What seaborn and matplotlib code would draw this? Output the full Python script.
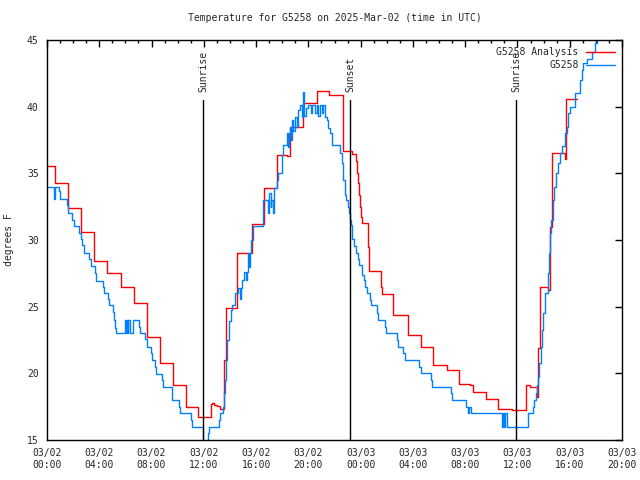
import pandas as pd
import seaborn as sns
import matplotlib.pyplot as plt
import matplotlib.dates as mdates

# hours after 2025-03-02 00:00 UTC, temperatures in degrees F
analysis_hours = [0, 0.59, 1.58, 2.58, 3.60, 4.57, 5.66, 6.63, 7.63, 8.65, 9.62, 10.61,
                  11.58, 12.53, 12.58, 12.63, 12.78, 13.01, 13.24, 13.57, 13.67, 14.56,
                  15.66, 16.63, 17.58, 18.36, 18.57, 19.57, 20.64, 21.60, 22.63, 23.32,
                  23.62, 23.65, 23.72, 23.77, 23.87, 23.95, 24.03, 24.08, 24.59, 24.66,
                  25.56, 25.66, 26.50, 27.60, 28.60, 29.56, 30.59, 31.55, 32.37, 32.62,
                  33.57, 34.53, 35.56, 36.63, 36.96, 37.47, 37.57, 37.72, 38.31, 38.50,
                  38.61, 39.64, 39.69, 39.71, 40.53]
analysis_temp = [35.55, 34.25, 32.4, 30.6, 28.4, 27.5, 26.45, 25.3, 22.7, 20.8, 19.1, 17.5,
                 16.7, 17.25, 17.7, 17.8, 17.6, 17.55, 17.3, 21.0, 24.9, 29.05,
                 31.2, 33.9, 36.4, 36.3, 38.45, 40.3, 41.15, 40.85, 36.7, 36.45,
                 36.3, 35.9, 35.0, 34.3, 33.4, 32.5, 31.7, 31.3, 29.5, 27.65,
                 26.5, 25.95, 24.4, 22.9, 21.95, 20.6, 20.25, 19.2, 19.1, 18.6,
                 18.05, 17.3, 17.25, 19.1, 19.0, 18.25, 21.9, 26.5, 26.25, 31.0,
                 36.5, 36.05, 38.3, 40.6, 40.6]

obs_hours = [0, 0.54, 0.61, 0.92, 1.02, 1.51, 1.58, 1.94, 2.04, 2.47, 2.58, 2.70, 2.83,
             3.24, 3.34, 3.67, 3.73, 4.29, 4.36, 4.67, 4.74, 5.07, 5.15, 5.20, 5.30,
             5.97, 6.07, 6.12, 6.17, 6.22, 6.35, 6.60, 7.06, 7.12, 7.50, 7.63, 7.94,
             8.01, 8.26, 8.34, 8.80, 8.85, 9.54, 9.59, 10.12, 10.18, 11.00, 11.07,
             11.91, 12.34, 12.42, 13.18, 13.26, 13.49, 13.57, 13.62, 13.70, 13.75,
             13.95, 14.06, 14.13, 14.39, 14.64, 14.77, 14.82, 14.90, 15.07, 15.23,
             15.28, 15.36, 15.46, 15.51, 15.61, 15.79, 16.51, 16.55, 16.93, 17.01,
             17.12, 17.16, 17.32, 17.39, 17.58, 17.70, 17.96, 18.08, 18.34, 18.44,
             18.52, 18.59, 18.67, 18.77, 18.85, 18.98, 19.11, 19.23, 19.36, 19.49,
             19.61, 19.69, 19.82, 19.99, 20.20, 20.30, 20.51, 20.64, 20.76, 20.89,
             21.02, 21.14, 21.27, 21.40, 21.53, 21.66, 21.79, 22.42, 22.55, 22.67,
             22.80, 22.88, 23.01, 23.11, 23.19, 23.26, 23.32, 23.36, 23.52, 23.64,
             23.77, 23.87, 24.08, 24.23, 24.33, 24.49, 24.72, 24.77, 25.27, 25.35,
             25.86, 25.92, 26.76, 26.84, 27.26, 27.39, 28.49, 28.60, 29.36, 29.44,
             30.89, 30.99, 32.06, 32.21, 32.29, 32.41, 34.79, 34.87, 34.97, 35.05,
             35.18, 36.78, 37.17, 37.27, 37.42, 37.52, 37.59, 37.67, 37.78, 37.85,
             37.98, 38.11, 38.36, 38.41, 38.49, 38.57, 38.70, 38.80, 38.95, 39.13,
             39.26, 39.38, 39.64, 39.77, 39.89, 40.02, 40.40, 40.79, 40.92, 41.04,
             41.34, 41.68, 41.93, 42.06, 42.47]
obs_temp = [34.0, 33.05, 34.0, 33.65, 33.1, 32.6, 32.0, 31.5, 31.05, 30.55, 30.1, 29.6, 29.0,
            28.6, 28.05, 27.55, 26.95, 26.45, 26.0, 25.6, 25.1, 24.6, 24.0, 23.4, 23.0,
            24.0, 23.0, 24.0, 23.0, 24.0, 23.0, 24.0, 23.5, 23.05, 22.55, 22.0, 21.55,
            21.0, 20.45, 19.95, 19.5, 19.0, 18.5, 18.0, 17.5, 17.0, 16.5, 16.0,
            14.8, 15.5, 15.95, 16.5, 17.0, 17.45, 18.5, 19.5, 21.0, 22.5,
            23.9, 24.75, 25.1, 26.0, 26.4, 25.6, 26.4, 27.0, 27.6, 27.0,
            27.6, 29.0, 28.0, 29.0, 30.0, 31.05, 32.0, 33.0, 32.0, 33.5,
            32.5, 33.0, 32.0, 33.9, 34.5, 35.0, 36.4, 37.1, 38.0, 37.0,
            38.0, 38.5, 37.5, 39.0, 38.2, 39.25, 38.5, 39.75, 40.1, 39.25,
            41.1, 39.3, 39.9, 40.1, 39.5, 40.1, 39.5, 40.1, 39.3, 40.1,
            39.5, 40.1, 39.25, 39.0, 38.4, 38.0, 37.1, 36.5, 35.75, 34.5,
            33.4, 33.0, 32.5, 32.0, 31.5, 31.1, 30.75, 30.05, 29.55, 29.0,
            28.6, 28.1, 27.4, 27.0, 26.5, 26.0, 25.5, 25.1, 24.5, 24.0,
            23.5, 23.0, 22.5, 22.0, 21.5, 21.0, 20.5, 20.0, 19.5, 19.0,
            18.5, 18.0, 17.5, 17.0, 17.5, 17.0, 16.0, 17.0, 16.0, 17.0,
            16.0, 17.0, 17.5, 18.0, 18.5, 19.1, 19.75, 20.75, 22.0, 23.25,
            24.5, 26.0, 27.5, 29.0, 30.5, 31.5, 33.0, 34.0, 35.0, 35.75,
            36.5, 37.05, 38.0, 38.5, 39.5, 40.0, 41.0, 42.0, 42.75, 43.25,
            43.6, 44.1, 44.75, 45.3, 46.0]

sun_events = ['Sunrise', 'Sunset', 'Sunrise']
sun_hours = [11.94, 23.19, 35.89]

start = pd.Timestamp('2025-03-02 00:00')
end = pd.Timestamp('2025-03-03 20:00')

analysis = pd.DataFrame({'time': start + pd.to_timedelta(analysis_hours, unit='h'),
                         'temp': analysis_temp})
obs = pd.DataFrame({'time': start + pd.to_timedelta(obs_hours, unit='h'),
                    'temp': obs_temp})

sns.set_style('white')
plt.rcParams['font.family'] = ['DejaVu Sans Mono']
plt.rcParams['font.size'] = 7

fig = plt.figure(figsize=(6.4, 4.8), dpi=100)
ax = fig.add_axes([47 / 640, 40 / 480, 575 / 640, 400 / 480])

sns.lineplot(data=analysis, x='time', y='temp', ax=ax, color='#ff0000', lw=1,
             drawstyle='steps-post', estimator=None, label='G5258 Analysis')
sns.lineplot(data=obs, x='time', y='temp', ax=ax, color='#0080ff', lw=1,
             drawstyle='steps-post', estimator=None, label='G5258')

# sunrise / sunset markers
for name, h in zip(sun_events, sun_hours):
    t = start + pd.Timedelta(hours=h)
    ax.plot([t, t], [15, 40.5], color='black', lw=1)
    ax.text(t, 41.1, name, rotation=90, ha='center', va='bottom', fontsize=7)

ax.set_xlim(start, end)
ax.set_ylim(15, 45)
ax.set_yticks(range(15, 50, 5))
ax.xaxis.set_major_locator(mdates.HourLocator(byhour=range(0, 24, 4)))
ax.xaxis.set_minor_locator(mdates.HourLocator())
ax.xaxis.set_major_formatter(mdates.DateFormatter('%m/%d\n%H:%M'))

ax.tick_params(which='both', direction='in', top=True, right=True, color='black')
ax.tick_params(which='major', length=5, width=1, labelsize=7, pad=6)
ax.tick_params(which='minor', length=2.5, width=1)
for s in ax.spines.values():
    s.set_color('black')
    s.set_linewidth(1)

ax.set_xlabel('')
ax.set_ylabel('degrees F', fontsize=7, labelpad=9)
ax.set_title('Temperature for G5258 on 2025-Mar-02 (time in UTC)', fontsize=7, pad=14)

ax.legend(loc='upper right', frameon=False, markerfirst=False, fontsize=7,
          handlelength=3, borderaxespad=0.35, labelspacing=0.3, handletextpad=0.7)

fig.savefig('out.png', dpi=100)
